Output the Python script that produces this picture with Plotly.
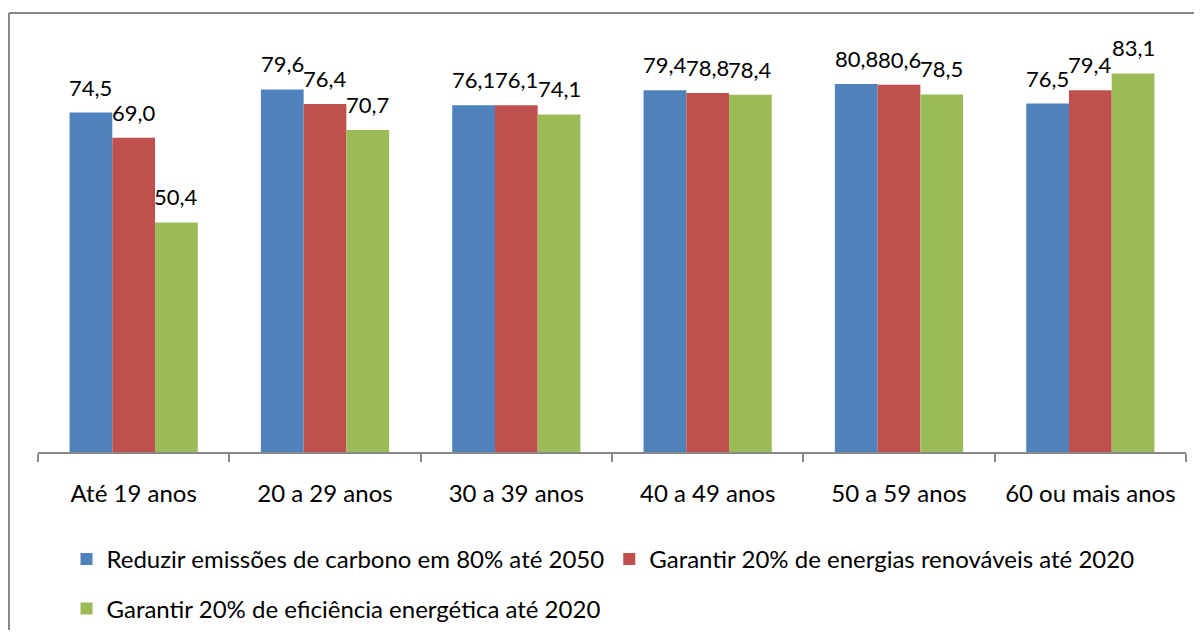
import plotly.graph_objects as go

categories = ["Até 19 anos", "20 a 29 anos", "30 a 39 anos", "40 a 49 anos", "50 a 59 anos", "60 ou mais anos"]
series_names = [
    "Reduzir emissões de carbono em 80% até 2050",
    "Garantir 20% de energias renováveis até 2020",
    "Garantir 20% de eficiência energética até 2020",
]
reduzir = [74.5, 79.6, 76.1, 79.4, 80.8, 76.5]
renovaveis = [69.0, 76.4, 76.1, 78.8, 80.6, 79.4]
eficiencia = [50.4, 70.7, 74.1, 78.4, 78.5, 83.1]
colors = ["#4F81BD", "#C0504D", "#9BBB59"]

FONT = "Lato"
fs_lab = 22
fs_tick = 24
fs_leg = 24
bargap = 0.33

fig = go.Figure()
all_series = [reduzir, renovaveis, eficiencia]
legends = ["legend", "legend", "legend2"]
for name, vals, col, lg in zip(series_names, all_series, colors, legends):
    fig.add_trace(go.Bar(
        x=categories, y=vals, name=name,
        marker=dict(color=col, line=dict(width=0)),
        legend=lg,
    ))

def fmt(v):
    return f"{v:.1f}".replace(".", ",")

w = (1 - bargap) / 3
for k, vals in enumerate(all_series):
    off = (k - 1) * w
    for i, v in enumerate(vals):
        fig.add_annotation(x=i + off, y=v, text=fmt(v), showarrow=False,
                           yanchor="bottom", xanchor="center", yshift=10,
                           font=dict(family=FONT, size=fs_lab, color="#000000"))

# outer chart border (only left and top edges visible)
bx0, by1 = -0.0253, 1.0707
fig.add_shape(type="line", xref="paper", yref="paper",
              x0=bx0, x1=bx0, y0=-0.6, y1=by1,
              line=dict(color="#868686", width=2), layer="below")
fig.add_shape(type="line", xref="paper", yref="paper",
              x0=bx0, x1=1.06, y0=by1, y1=by1,
              line=dict(color="#868686", width=2), layer="below")

fig.update_layout(
    width=1194, height=622,
    margin=dict(l=30, r=16, t=34, b=178, autoexpand=False),
    paper_bgcolor="white", plot_bgcolor="white",
    barmode="group", bargap=bargap, bargroupgap=0,
    font=dict(family=FONT, size=fs_tick, color="#000000"),
    xaxis=dict(
        type="category", categoryorder="array", categoryarray=categories,
        showline=True, linecolor="#888888", linewidth=1.5,
        ticks="outside", tickson="boundaries", ticklen=8, tickcolor="#888888", tickwidth=1.5,
        showgrid=False, ticklabelstandoff=19,
        tickfont=dict(family=FONT, size=fs_tick, color="#000000"),
    ),
    yaxis=dict(range=[0, 90], visible=False, showgrid=False),
    showlegend=True,
    legend=dict(orientation="h", xref="container", yref="container",
                x=0.049, y=0.1497, xanchor="left", yanchor="top",
                font=dict(family=FONT, size=fs_leg), itemwidth=30, traceorder="normal",
                bgcolor="rgba(0,0,0,0)"),
    legend2=dict(orientation="h", xref="container", yref="container",
                 x=0.049, y=0.0702, xanchor="left", yanchor="top",
                 font=dict(family=FONT, size=fs_leg), itemwidth=30,
                 bgcolor="rgba(0,0,0,0)"),
)

fig.write_html("out.html")
